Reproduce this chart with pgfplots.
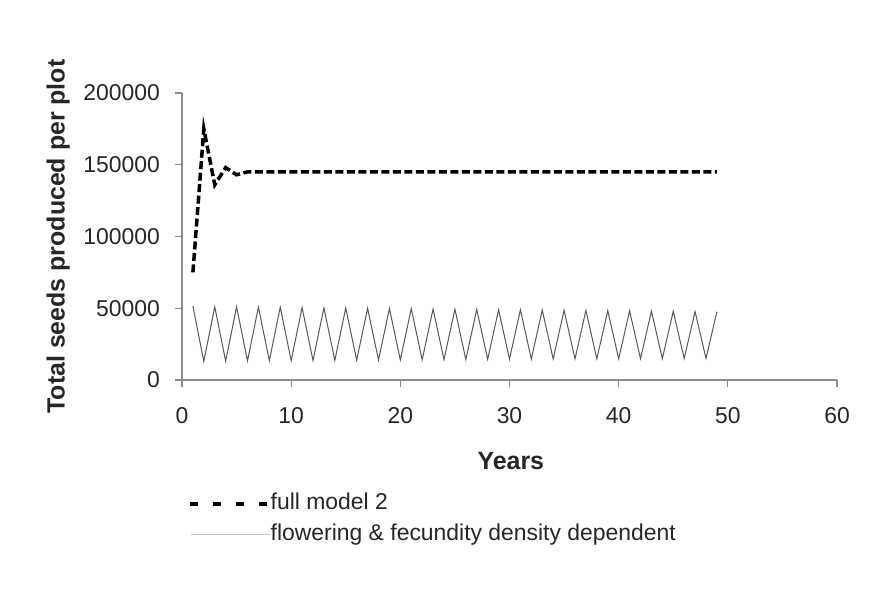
\documentclass[border=0pt]{standalone}
\usepackage{pgfplots}
\pgfplotsset{compat=1.18}
\usepackage{fontspec}
\setmainfont{Liberation Sans}
\begin{document}
\begin{tikzpicture}[x=1bp,y=1bp]
\path[use as bounding box, fill=white] (-182,-221) rectangle (687,380);
\begin{axis}[at={(0,0)}, anchor=origin, scale only axis, width=655bp, height=287bp,
  xmin=0, xmax=60, ymin=0, ymax=200000,
  xtick={0,10,...,60}, ytick={0,50000,100000,150000,200000},
  axis x line*=bottom, axis y line*=left,
  axis line style={black!45, line width=1.1bp},
  tick style={black!45, line width=1.1bp},
  tick align=outside, major tick length=7bp,
  scaled y ticks=false,
  /pgf/number format/assume math mode=true,
  /pgf/number format/fixed, /pgf/number format/1000 sep={},
  ticklabel style={font=\fontsize{23}{27}\selectfont, text=black!85},
  every y tick label/.style={anchor=east, inner sep=0pt},
  every x tick label/.style={anchor=north, inner sep=0pt},
  yticklabel shift=15bp,
  xticklabel shift=20bp,
  xlabel={Years}, ylabel={Total seeds produced per plot},
  every axis x label/.style={at={(rel axis cs:0.502,-0.282)}, anchor=center,
    font=\fontsize{25}{30}\selectfont\bfseries, text=black!85},
  every axis y label/.style={at={(rel axis cs:-0.189,0.5)}, anchor=center, rotate=90,
    font=\fontsize{25}{30}\selectfont\bfseries, text=black!85},
  legend style={at={(rel axis cs:0.005,-0.386)}, anchor=north west, draw=none, fill=none,
    font=\fontsize{23}{27}\selectfont, text=black!85,
    nodes={inner sep=0pt, text height=17bp, text depth=5bp},
    row sep=9bp, /tikz/every even column/.append style={column sep=10bp}},
  legend cell align=left,
]
\addplot[black, line width=3.5bp, dash pattern=on 8bp off 3.5bp,
  legend image code/.code={\draw[black, line width=3.5bp, dash pattern=on 8bp off 15bp] (0bp,0bp) -- (77bp,0bp);}]
 coordinates {(1,75000)(2,175000)(3,136000)(4,148000)(5,143000)(6,145000)(7,145000)(8,145000)(9,145000)(10,145000)
 (11,145000)(12,145000)(13,145000)(14,145000)(15,145000)(16,145000)(17,145000)(18,145000)(19,145000)(20,145000)
 (21,145000)(22,145000)(23,145000)(24,145000)(25,145000)(26,145000)(27,145000)(28,145000)(29,145000)(30,145000)
 (31,145000)(32,145000)(33,145000)(34,145000)(35,145000)(36,145000)(37,145000)(38,145000)(39,145000)(40,145000)
 (41,145000)(42,145000)(43,145000)(44,145000)(45,145000)(46,145000)(47,145000)(48,145000)(49,145000)};
\addlegendentry{full model 2}
\addplot[black!65, line width=1bp,
  legend image code/.code={\draw[black!22, line width=1bp] (1bp,0bp) -- (80bp,0bp);}]
 coordinates {(1,51500)(2,13000)(3,51000)(4,13200)(5,51000)(6,13300)(7,50800)(8,13400)(9,50800)(10,13500)
 (11,50500)(12,13600)(13,50300)(14,13700)(15,50200)(16,13800)(17,50000)(18,13900)(19,49800)(20,14000)
 (21,49700)(22,14100)(23,49500)(24,14200)(25,49400)(26,14300)(27,49200)(28,14400)(29,49000)(30,14500)
 (31,48900)(32,14550)(33,48800)(34,14600)(35,48600)(36,14700)(37,48500)(38,14750)(39,48300)(40,14800)
 (41,48200)(42,14850)(43,48000)(44,14900)(45,47900)(46,14950)(47,47700)(48,15000)(49,47600)};
\addlegendentry{flowering \& fecundity density dependent}
\end{axis}
\end{tikzpicture}
\end{document}
